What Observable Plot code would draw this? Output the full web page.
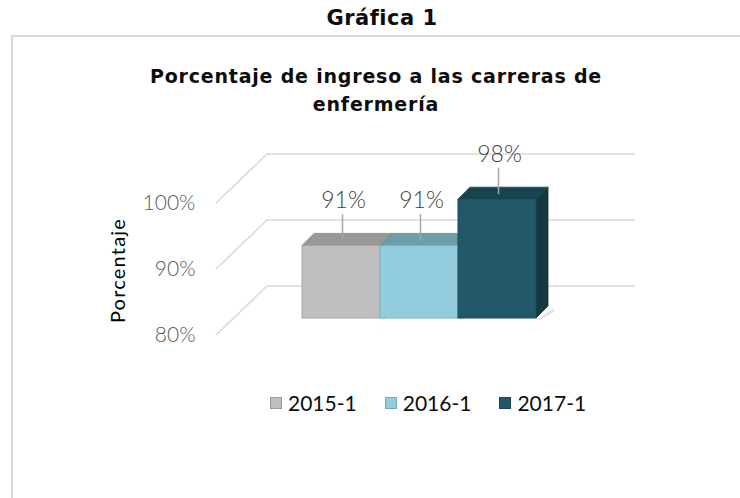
<!DOCTYPE html>
<html><head><meta charset="utf-8">
<script src="https://cdn.jsdelivr.net/npm/d3@7"></script>
<script src="https://cdn.jsdelivr.net/npm/@observablehq/plot@0.6"></script>
<style>
html,body{margin:0;padding:0;background:#fff;}
body{width:740px;height:498px;position:relative;overflow:hidden;font-family:Lato,"DejaVu Sans",sans-serif;}
#frame{position:absolute;left:11px;top:35px;width:760px;height:500px;border-left:2px solid #d9d9d9;border-top:2px solid #d9d9d9;box-sizing:border-box;}
#g1{position:absolute;left:0;width:764px;top:5px;text-align:center;font:bold 21px "DejaVu Sans",sans-serif;letter-spacing:0.5px;color:#0d0d0d;line-height:26px;}
#title{position:absolute;left:0;width:752px;top:62px;text-align:center;font:bold 19px "DejaVu Sans",sans-serif;letter-spacing:0.8px;color:#0d0d0d;line-height:28px;}
#chart{position:absolute;left:0;top:0;}
#legend{position:absolute;left:270px;top:390px;display:flex;align-items:center;font-size:21px;font-weight:400;color:#0d0d0d;}
#legend .item{display:flex;align-items:center;margin-right:28px;}
#legend .sw{width:12px;height:12px;margin-right:6px;box-sizing:border-box;}
</style></head>
<body>
<div id="g1">Gráfica 1</div>
<div id="frame"></div>
<div id="title">Porcentaje de ingreso a las carreras de<br>enfermería</div>
<div id="chart"></div>
<div id="legend"></div>
<script>
const periods = ["2015-1", "2016-1", "2017-1"];
const values = [91, 91, 98];
const yTicks = [80, 90, 100];
const yTitle = "Porcentaje";
const frontColors = ["#bfbfbf", "#93cddd", "#215968"];
const topColors = ["#999999", "#6d9ea8", "#184350"];
const sideColors = ["#8e8e8e", "#5f8d97", "#143740"];

const data = periods.map((p, i) => ({period: p, value: values[i], i}));
const DEPTH = 12;

function bars3d(index, scales, v, dims) {
  const g = d3.create("svg:g");
  const bw = scales.x.bandwidth();
  for (const i of index) {
    const x1 = v.x[i], x2 = x1 + bw;
    const yt = Math.min(v.y1[i], v.y2[i]), yb = Math.max(v.y1[i], v.y2[i]);
    const k = data[i].i;
    g.append("path")
      .attr("d", `M${x2 + 2},${yb + 1}L${x2 + DEPTH + 6},${yb - DEPTH + 2}L${x2 + DEPTH + 6},${yb - DEPTH + 6}L${x2 + 2},${yb + 3}Z`)
      .attr("fill", "#d0d0d0").attr("opacity", 0.6);
    g.append("path")
      .attr("d", `M${x2},${yt}L${x2 + DEPTH},${yt - DEPTH}L${x2 + DEPTH},${yb - DEPTH}L${x2},${yb}Z`)
      .attr("fill", sideColors[k]).attr("stroke", d3.color(sideColors[k]).darker(0.3)).attr("stroke-width", 0.8);
    g.append("path")
      .attr("d", `M${x1},${yt}L${x2},${yt}L${x2 + DEPTH},${yt - DEPTH}L${x1 + DEPTH},${yt - DEPTH}Z`)
      .attr("fill", topColors[k]).attr("stroke", d3.color(topColors[k]).darker(0.3)).attr("stroke-width", 0.8);
    g.append("rect")
      .attr("x", x1).attr("y", yt).attr("width", bw).attr("height", yb - yt)
      .attr("fill", frontColors[k]).attr("stroke", d3.color(frontColors[k]).darker(0.4)).attr("stroke-width", 1);
  }
  return g.node();
}

function grid3d(index, scales, v, dims) {
  const g = d3.create("svg:g");
  const fx = dims.marginLeft - 85, bx = dims.marginLeft - 34, ex = dims.width - 105;
  for (const i of index) {
    const y = v.y[i];
    g.append("path")
      .attr("d", `M${fx},${y + 17}L${bx},${y - 32}L${ex},${y - 32}`)
      .attr("fill", "none").attr("stroke", "#d9d9d9").attr("stroke-width", 1.6);
  }
  return g.node();
}

const plot = Plot.plot({
  width: 740,
  height: 498,
  marginLeft: 301,
  marginRight: 204,
  marginTop: 120,
  marginBottom: 180,
  style: {background: "transparent", overflow: "visible"},
  x: {domain: periods, padding: 0, axis: null},
  y: {domain: [80, 110], axis: null},
  marks: [
    Plot.ruleY(yTicks, {y: d => d, render: grid3d}),
    Plot.text(yTicks, {y: d => d, text: d => d + "%", frameAnchor: "left", textAnchor: "end", dx: -106, dy: 17, fill: "#595959", fontSize: 21, fontWeight: 300, fontFamily: "Lato"}),
    Plot.text([yTitle], {text: d => d, frameAnchor: "left", textAnchor: "middle", rotate: -90, dx: -183, dy: 51, fill: "#000000", fontSize: 20, fontWeight: 400, fontFamily: "Lato"}),
    Plot.barY(data, {x: "period", y1: 80, y2: "value", render: bars3d}),
    Plot.ruleX(data, {x: "period", y1: "value", y2: d => d.value + 4, dx: 1, dy: -5, stroke: "#a6a6a6", strokeWidth: 1.5}),
    Plot.text(data, {x: "period", y: "value", text: d => d.value + "%", dx: 2, dy: -45, fill: "#404040", fontSize: 23, fontWeight: 300, fontFamily: "Lato"})
  ]
});
document.getElementById("chart").appendChild(plot);
plot.querySelectorAll("text").forEach(t => { if (t.textContent === yTitle) t.style.letterSpacing = "1.2px"; });

const leg = document.getElementById("legend");
periods.forEach((p, i) => {
  const it = document.createElement("div");
  it.className = "item";
  const sw = document.createElement("div");
  sw.className = "sw";
  sw.style.background = frontColors[i];
  sw.style.border = "1px solid " + d3.color(frontColors[i]).darker(0.6);
  it.appendChild(sw);
  const t = document.createElement("span");
  t.textContent = p;
  it.appendChild(t);
  leg.appendChild(it);
});
</script>
</body></html>
